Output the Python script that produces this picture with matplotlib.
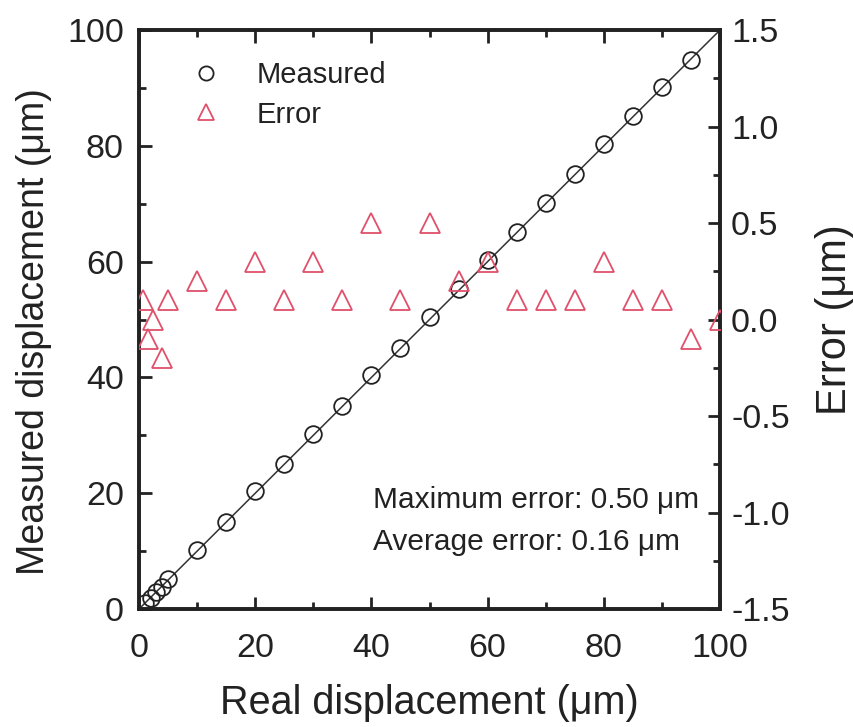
import matplotlib
matplotlib.use("Agg")
import matplotlib.pyplot as plt
from matplotlib.ticker import MultipleLocator

plt.rcParams['font.family'] = ['Liberation Sans', 'DejaVu Sans']

real = [1, 2, 3, 4, 5, 10, 15, 20, 25, 30, 35, 40, 45, 50, 55, 60, 65, 70, 75, 80, 85, 90, 95]
error = [0.1, -0.1, 0.0, -0.2, 0.1, 0.2, 0.1, 0.3, 0.1, 0.3, 0.1, 0.5, 0.1, 0.5, 0.2, 0.3,
         0.1, 0.1, 0.1, 0.3, 0.1, 0.1, -0.1]
err_x = [0.7, 1.5, 2.4, 4, 5, 10, 15, 20, 25, 30, 35, 40, 45, 50, 55, 60, 65, 70, 75, 80, 85, 90, 95, 100]
err_y = [0.1, -0.1, 0.0, -0.2, 0.1, 0.2, 0.1, 0.3, 0.1, 0.3, 0.1, 0.5, 0.1, 0.5, 0.2, 0.3,
         0.1, 0.1, 0.1, 0.3, 0.1, 0.1, -0.1, 0.0]
measured = [r + e for r, e in zip(real, error)]
fit_x = [0, 100]
fit_y = [0, 100]
right_ticks = [-1.5, -1.0, -0.5, 0.0, 0.5, 1.0, 1.5]
right_labels = ['-1.5', '-1.0', '-0.5', '0.0', '0.5', '1.0', '1.5']

fig = plt.figure(figsize=(8.54, 7.27), dpi=100)
ax = fig.add_axes([0.1628, 0.1623, 0.6803, 0.7964])
ax2 = ax.twinx()

red = '#e0506a'
dark = '#222222'
ax.plot(fit_x, fit_y, color='#333333', lw=1.1, zorder=2)
l1, = ax.plot(real, measured, 'o', mfc='none', mec=dark, ms=12, mew=1.3, zorder=3)
l2, = ax2.plot(err_x, err_y, '^', mfc='none', mec=red, ms=14, mew=1.3, zorder=3)

ax.set_xlim(0, 100)
ax.set_ylim(0, 100)
ax2.set_ylim(-1.5, 1.5)

ax.xaxis.set_major_locator(MultipleLocator(20))
ax.xaxis.set_minor_locator(MultipleLocator(10))
ax.yaxis.set_major_locator(MultipleLocator(20))
ax.yaxis.set_minor_locator(MultipleLocator(10))
ax2.set_yticks(right_ticks)
ax2.set_yticklabels(right_labels)
ax2.yaxis.set_minor_locator(MultipleLocator(0.25))

ax.tick_params(axis='x', which='major', direction='in', length=9, width=2, labelsize=24.5,
               top=True, pad=17, colors=dark)
ax.tick_params(axis='y', which='major', direction='in', length=9, width=2, labelsize=24.5,
               right=False, pad=11, colors=dark)
ax.tick_params(axis='both', which='minor', direction='in', length=5, width=2, top=True,
               right=False, colors=dark)
ax2.tick_params(axis='y', which='major', direction='in', length=9, width=2, labelsize=24.5,
                pad=8, colors=dark)
ax2.tick_params(axis='y', which='minor', direction='in', length=5, width=2, colors=dark)

for a in (ax, ax2):
    for s in a.spines.values():
        s.set_linewidth(2.6)
        s.set_color(dark)

ax.set_xlabel('Real displacement (μm)', fontsize=28.5, labelpad=15, color=dark)
ax.set_ylabel('Measured displacement (μm)', fontsize=27, color=dark)
ax.yaxis.set_label_coords(-0.15, 0.48)
ax2.set_ylabel('Error (μm)', fontsize=30, labelpad=18, color=dark)

ax.legend([l1, l2], ['Measured', 'Error'], loc='upper left', frameon=False, fontsize=21,
          bbox_to_anchor=(0.02, 0.992), handletextpad=0.72, labelspacing=0.4,
          markerscale=0.85)
for t in ax.get_legend().get_texts():
    t.set_color(dark)

ax.text(0.403, 0.1744, 'Maximum error: 0.50 μm', transform=ax.transAxes, fontsize=21.5,
        va='baseline', ha='left', color=dark)
ax.text(0.403, 0.102, 'Average error: 0.16 μm', transform=ax.transAxes, fontsize=21.5,
        va='baseline', ha='left', color=dark)

fig.savefig('out.png', dpi=100)
